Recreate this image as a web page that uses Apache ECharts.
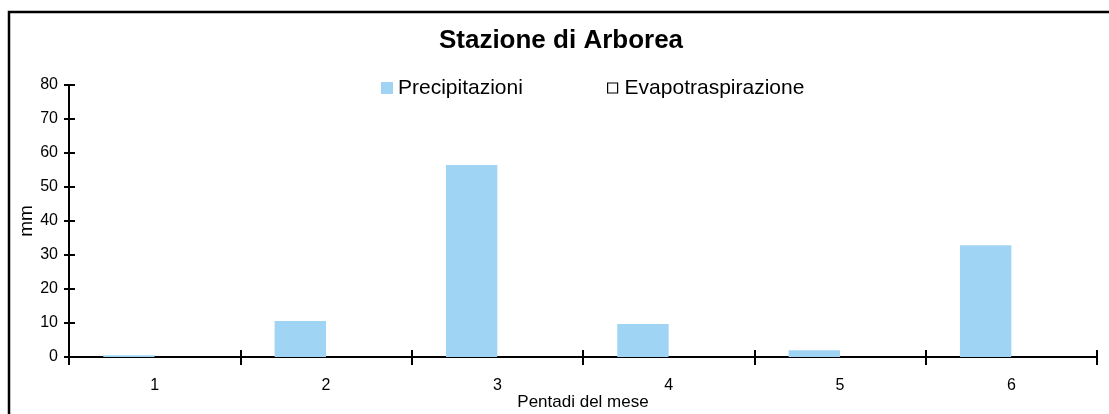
<!DOCTYPE html>
<html>
<head>
<meta charset="utf-8">
<script src="https://cdn.jsdelivr.net/npm/echarts@6/dist/echarts.min.js"></script>
<style>
html,body{margin:0;padding:0;background:#fff;}
#chart{width:1109px;height:414px;}
</style>
</head>
<body>
<div id="chart"></div>
<script>
const categories = ['1', '2', '3', '4', '5', '6'];
const precipitazioni = [0.5, 10.6, 56.5, 9.7, 2.0, 32.9];
const evapotraspirazione = [0, 0, 0, 0, 0, 0];
const yTicks = { min: 0, max: 80, interval: 10 };

const FONT = '"Liberation Sans", Arial, sans-serif';
const chart = echarts.init(document.getElementById('chart'));
chart.setOption({
  animation: false,
  backgroundColor: '#fff',
  textStyle: { fontFamily: FONT, color: '#000' },
  graphic: [{
    type: 'rect',
    shape: { x: 9, y: 12, width: 1200, height: 500 },
    style: { fill: 'none', stroke: '#000', lineWidth: 2.5 },
    silent: true
  }],
  title: {
    text: 'Stazione di Arborea',
    left: 561, top: 28, textAlign: 'center', padding: 0,
    textStyle: { fontFamily: FONT, fontSize: 26, fontWeight: 'bold', color: '#000' }
  },
  legend: [{
    data: [{ name: 'Precipitazioni' }],
    left: 381, top: 77, padding: 0,
    itemWidth: 12, itemHeight: 12,
    icon: 'rect',
    textStyle: { fontFamily: FONT, fontSize: 21, color: '#000', lineHeight: 22 }
  }, {
    data: [{ name: 'Evapotraspirazione' }],
    left: 607, top: 77, padding: 0,
    itemWidth: 10, itemHeight: 10,
    icon: 'rect',
    itemStyle: { color: '#fff', borderColor: '#000', borderWidth: 1.2 },
    textStyle: { fontFamily: FONT, fontSize: 21, color: '#000', lineHeight: 22, padding: [0, 0, 0, 2] }
  }],
  grid: { left: 69, right: 12, top: 85, bottom: 57, outerBoundsMode: 'none', containLabel: false },
  xAxis: [{
    type: 'category',
    data: categories,
    boundaryGap: true,
    name: 'Pentadi del mese',
    nameLocation: 'middle',
    nameGap: 37,
    nameMoveOverlap: false,
    nameTextStyle: { fontFamily: FONT, fontSize: 17, color: '#000' },
    axisLine: { lineStyle: { color: '#000', width: 2 } },
    axisTick: { show: true, inside: false, length: 8, lineStyle: { color: '#000', width: 2 } },
    axisLabel: { fontFamily: FONT, fontSize: 16, color: '#000', margin: 21 },
    splitLine: { show: false }
  }, {
    type: 'category',
    data: categories,
    position: 'bottom',
    boundaryGap: true,
    axisLine: { show: false },
    axisTick: { show: true, inside: true, length: 7, lineStyle: { color: '#000', width: 2 } },
    axisLabel: { show: false },
    splitLine: { show: false }
  }],
  yAxis: [{
    type: 'value',
    min: yTicks.min, max: yTicks.max, interval: yTicks.interval,
    name: 'mm',
    nameLocation: 'middle',
    nameRotate: 90,
    nameGap: 33,
    nameMoveOverlap: false,
    nameTextStyle: { fontFamily: FONT, fontSize: 19, color: '#000' },
    axisLine: { show: true, lineStyle: { color: '#000', width: 2 } },
    axisTick: { show: true, inside: false, length: 5, lineStyle: { color: '#000', width: 2 } },
    axisLabel: { fontFamily: FONT, fontSize: 16, color: '#000', margin: 11 },
    splitLine: { show: false }
  }, {
    type: 'value',
    position: 'left',
    min: yTicks.min, max: yTicks.max, interval: yTicks.interval,
    axisLine: { show: false },
    axisTick: { show: true, inside: true, length: 6, lineStyle: { color: '#000', width: 2 } },
    axisLabel: { show: false },
    splitLine: { show: false }
  }],
  series: [{
    name: 'Precipitazioni',
    type: 'bar',
    data: precipitazioni,
    barWidth: '30%',
    barGap: '0%',
    itemStyle: { color: '#9FD4F5' },
    z: 1
  }, {
    name: 'Evapotraspirazione',
    type: 'bar',
    data: evapotraspirazione,
    barWidth: '30%',
    barGap: '0%',
    itemStyle: { color: '#fff', borderColor: '#000', borderWidth: 1 },
    z: 1
  }]
});
</script>
</body>
</html>
